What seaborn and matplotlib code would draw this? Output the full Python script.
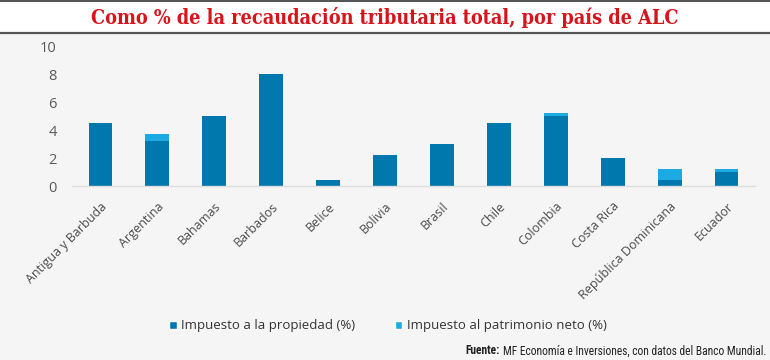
import matplotlib
matplotlib.use("Agg")
import matplotlib.pyplot as plt
import seaborn as sns
import pandas as pd
from matplotlib.patches import Patch
from matplotlib.lines import Line2D

paises = ["Antigua y Barbuda", "Argentina", "Bahamas", "Barbados", "Belice", "Bolivia",
          "Brasil", "Chile", "Colombia", "Costa Rica", "República Dominicana", "Ecuador"]
propiedad = [4.5, 3.2, 5.0, 8.0, 0.45, 2.2, 3.0, 4.5, 5.0, 2.0, 0.45, 1.0]
patrimonio = [0.0, 0.5, 0.0, 0.0, 0.0, 0.0, 0.0, 0.0, 0.2, 0.0, 0.75, 0.2]
yticks = [0, 2, 4, 6, 8, 10]

dark = "#0077AD"
light = "#1DA9E1"
bg = "#F5F5F5"

df = pd.DataFrame({"pais": paises, "propiedad": propiedad,
                   "total": [a + b for a, b in zip(propiedad, patrimonio)]})

sns.set_theme(style="white")
plt.rcParams["font.family"] = ["Open Sans", "DejaVu Sans"]

fig = plt.figure(figsize=(7.7, 3.6), dpi=100)
fig.patch.set_facecolor(bg)

# title band
fig.patches.append(plt.Rectangle((0, 1 - 33 / 360), 1, 33 / 360, transform=fig.transFigure,
                                 facecolor="white", edgecolor="none", zorder=0))
fig.add_artist(Line2D([0, 1], [1 - 0.8 / 360, 1 - 0.8 / 360], transform=fig.transFigure,
                      color="#444444", lw=1.3))
fig.add_artist(Line2D([0, 1], [1 - 33 / 360, 1 - 33 / 360], transform=fig.transFigure,
                      color="#555555", lw=1.6))
fig.text(0.5, 1 - 17.5 / 360, "Como % de la recaudación tributaria total, por país de ALC",
         ha="center", va="center", color="#D7141A", fontsize=14.2, fontweight="bold",
         fontstretch="condensed", family=["DejaVu Serif", "DejaVu Sans"])

ax = fig.add_axes([72 / 770, 1 - 186 / 360, (755 - 72) / 770, 140 / 360])
ax.set_facecolor(bg)
sns.barplot(data=df, x="pais", y="total", color=light, width=0.42, ax=ax,
            saturation=1, edgecolor="none")
sns.barplot(data=df, x="pais", y="propiedad", color=dark, width=0.42, ax=ax,
            saturation=1, edgecolor="none")
ax.set_ylim(0, 10)
ax.set_xlim(-0.5, len(paises) - 0.5)
ax.set_yticks(yticks)
ax.set_xlabel("")
ax.set_ylabel("")
for s in ["top", "right", "left"]:
    ax.spines[s].set_visible(False)
ax.spines["bottom"].set_color("#DDDDDD")
ax.spines["bottom"].set_linewidth(1)
ax.tick_params(axis="y", length=0, pad=11, labelsize=10.5, labelcolor="#595959")
ax.tick_params(axis="x", length=0, pad=10, labelsize=9, labelcolor="#4A4A4A")
ax.set_xticks(range(len(paises)))
ax.set_xticklabels(paises, rotation=45, ha="right", rotation_mode="anchor")

handles = [Patch(facecolor=dark, label="Impuesto a la propiedad (%)"),
           Patch(facecolor=light, label="Impuesto al patrimonio neto (%)")]
fig.legend(handles=handles, loc="center", bbox_to_anchor=(388 / 770, 1 - 326 / 360), ncol=2,
           frameon=False, fontsize=9.5, handlelength=0.55, handleheight=0.55,
           handletextpad=0.35, columnspacing=3.0, labelcolor="#333333")

cond = ["Roboto Condensed", "Archivo Narrow", "DejaVu Sans"]
t1 = fig.text(1 - 4 / 770, 1 - 354.5 / 360,
              "MF Economía e Inversiones, con datos del Banco Mundial.",
              ha="right", va="baseline", fontsize=8.3, color="#222222", family=cond)
fig.canvas.draw()
bb = t1.get_window_extent()
fig.text(bb.x0 / fig.bbox.width - 2.5 / 770, 1 - 354.5 / 360, "Fuente:", ha="right",
         va="baseline", fontsize=8.3, fontweight="bold", color="#222222", family=cond)

fig.savefig("out.png", dpi=100, facecolor=bg)
